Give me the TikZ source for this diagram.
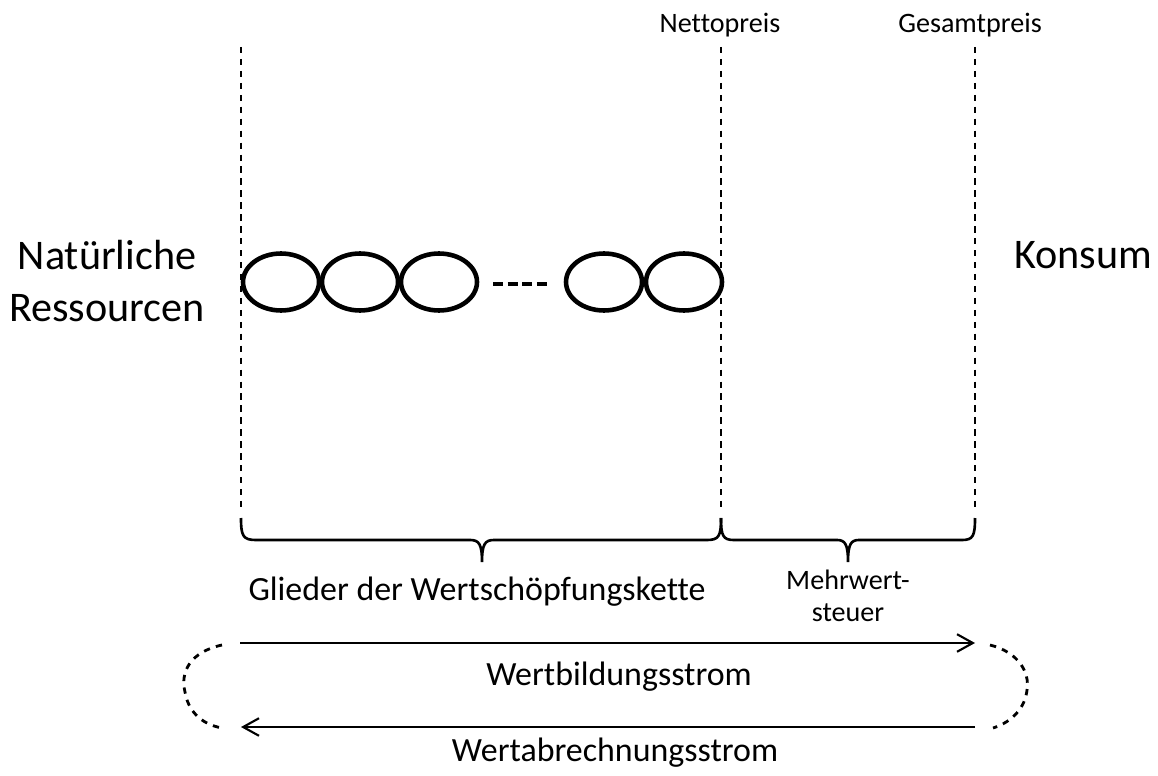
\documentclass[tikz,border=0pt]{standalone}
\usepackage{fontspec}
\setmainfont{Carlito}[Ligatures=NoCommon]
\usetikzlibrary{shapes.geometric,arrows.meta}
\begin{document}
\begin{tikzpicture}[x=0.02cm,y=-0.02cm,
  divider/.style={line width=1.1pt,dash pattern=on 3.6pt off 3.2pt},
  link/.style={ellipse,draw,line width=2.6pt,minimum width=1.52cm,minimum height=1.14cm,inner sep=0pt},
  bracket/.style={line width=1.5pt},
  flow/.style={line width=1.6pt,-{Straight Barb[length=9pt,width=10pt,line width=1.2pt]}},
  loopback/.style={line width=1.6pt,dash pattern=on 3.6pt off 3.6pt},
  big/.style={font=\fontsize{24}{29.6}\selectfont,align=center},
  mid/.style={font=\fontsize{19.3}{23}\selectfont},
  small/.style={font=\fontsize{16}{18.2}\selectfont,align=center}]
\useasboundingbox (0,0) rectangle (1158,776);

% price boundaries
\coordinate (s0) at (241,47);  \coordinate (b0) at (241,510);
\coordinate (s1) at (721,47);  \coordinate (b1) at (721,510);
\coordinate (s2) at (975,47);  \coordinate (b2) at (975,510);
\draw[divider] (s0) -- (b0);
\draw[divider] (s1) -- (b1);
\draw[divider] (s2) -- (b2);

\node[small] (netto) at (720,25) {Nettopreis};
\node[small] (gesamt) at (970,25) {Gesamtpreis};

% end points of the chain
\node[big] (res) at (107,281) {Natürliche\\Ressourcen};
\node[big] (kons) at (1083,255) {Konsum};

% links of the value chain
\node[link] (g1) at (281,282) {};
\node[link] (g2) at (360,282) {};
\node[link] (g3) at (439,282) {};
\node[link] (g4) at (604,282) {};
\node[link] (g5) at (684,282) {};
\draw[line width=2.3pt,dash pattern=on 5.7pt off 2.6pt] (493,284) -- (547,284);

% braces
\draw[bracket] (241,518) .. controls (241,536) and (243,540) .. (256,540)
  -- (470,540) .. controls (479,540) and (482,544) .. (482,562)
  .. controls (482,544) and (485,540) .. (494,540)
  -- (707,540) .. controls (719,540) and (721,536) .. (721,518);
\draw[bracket] (721,518) .. controls (721,536) and (723,540) .. (734,540)
  -- (837,540) .. controls (845,540) and (848,544) .. (848,562)
  .. controls (848,544) and (851,540) .. (859,540)
  -- (962,540) .. controls (973,540) and (975,536) .. (975,518);

\node[mid] (glieder) at (477,592) {Glieder der Wertschöpfungskette};
\node[small] (mwst) at (848,596) {Mehrwert-\\steuer};

% flows
\coordinate (fa) at (240,643);
\coordinate (fb) at (975,643);
\coordinate (ra) at (975,727);
\coordinate (rb) at (241,727);
\draw[flow] (fa) -- (fb);
\draw[flow] (ra) -- (rb);
\node[mid] (bild) at (619,677) {Wertbildungsstrom};
\node[mid] (abr) at (615,753) {Wertabrechnungsstrom};

\coordinate (la) at (222,645);
\coordinate (lb) at (222,728);
\coordinate (qa) at (990,645);
\coordinate (qb) at (993,728);
\draw[loopback] (la) .. controls (190,652) and (180,672) .. (185,692)
  .. controls (188,710) and (200,724) .. (lb);
\draw[loopback] (qa) .. controls (1018,652) and (1030,672) .. (1027,690)
  .. controls (1025,708) and (1012,722) .. (qb);
\end{tikzpicture}
\end{document}
